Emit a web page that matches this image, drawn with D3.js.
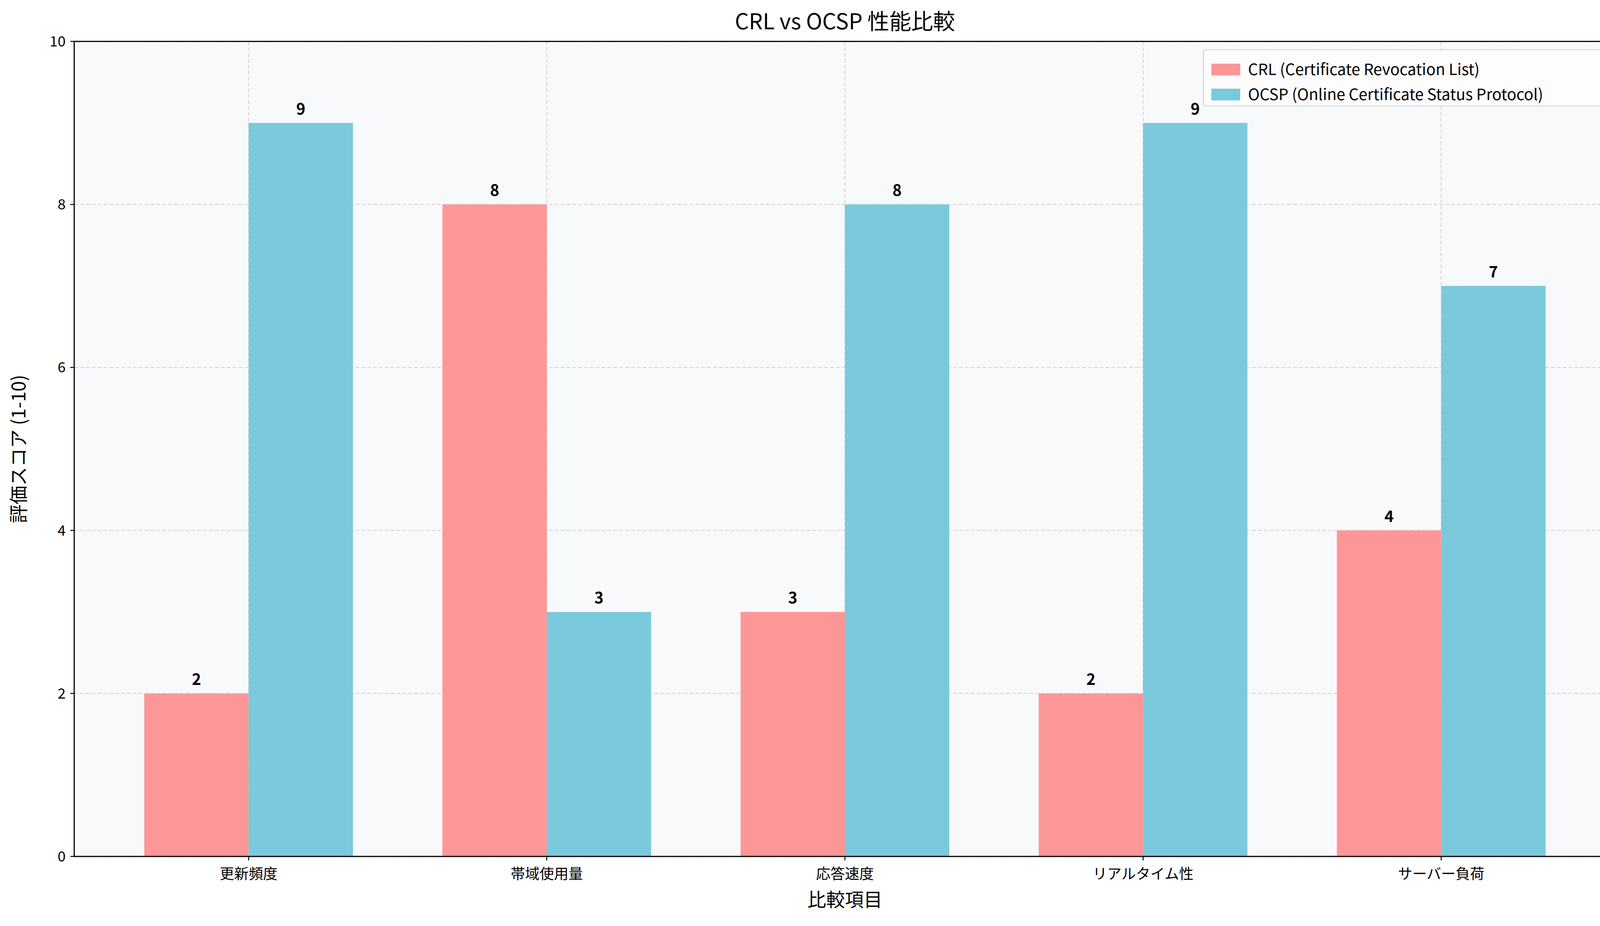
<!DOCTYPE html>
<html><head><meta charset="utf-8">
<script src="https://cdn.jsdelivr.net/npm/d3@7"></script>
<style>body{margin:0;background:#fff}text{font-family:"Noto Sans CJK JP","Noto Sans",sans-serif}</style>
</head><body><svg id="c" width="4168" height="2370"></svg>
<script>
const categories = ["更新頻度","帯域使用量","応答速度","リアルタイム性","サーバー負荷"];
const crlValues = [2,8,3,2,4];
const ocspValues = [9,3,8,9,7];
const seriesNames = ["CRL (Certificate Revocation List)","OCSP (Online Certificate Status Protocol)"];
const yTicks = [0,2,4,6,8,10];
const colors = ["#fd9797","#7ac9dc"];

const svg = d3.select("#c");
const L=190,R=4136,T=106,B=2192;
const x = d3.scaleLinear().domain([-0.585,4.585]).range([L,R]);
const y = d3.scaleLinear().domain([0,10]).range([B,T]);
const w = 0.35;

svg.append("rect").attr("x",L).attr("y",T).attr("width",R-L).attr("height",B-T).attr("fill","#f8f9fa");
// grid
yTicks.forEach(t=>svg.append("line").attr("x1",L).attr("x2",R).attr("y1",y(t)).attr("y2",y(t))
  .attr("stroke","#d8d8d8").attr("stroke-width",2.5).attr("stroke-dasharray","10,5"));
categories.forEach((c,i)=>svg.append("line").attr("x1",x(i)).attr("x2",x(i)).attr("y1",T).attr("y2",B)
  .attr("stroke","#d8d8d8").attr("stroke-width",2.5).attr("stroke-dasharray","10,5"));

[crlValues,ocspValues].forEach((vals,s)=>{
  const off = s===0 ? -w : 0;
  vals.forEach((v,i)=>{
    svg.append("rect").attr("x",x(i+off)).attr("width",x(w)-x(0)).attr("y",y(v)).attr("height",y(0)-y(v)).attr("fill",colors[s]);
    svg.append("text").attr("x",x(i+off+w/2)).attr("y",y(v)-22).attr("text-anchor","middle")
      .attr("font-size",40).attr("font-weight","bold").text(v);
  });
});

svg.append("rect").attr("x",L).attr("y",T).attr("width",R-L).attr("height",B-T).attr("fill","none").attr("stroke","#000").attr("stroke-width",3);

// y ticks
yTicks.forEach(t=>{
  svg.append("line").attr("x1",L-10).attr("x2",L).attr("y1",y(t)).attr("y2",y(t)).attr("stroke","#000").attr("stroke-width",2.5);
  svg.append("text").attr("x",L-22).attr("y",y(t)).attr("dy","0.35em").attr("text-anchor","end").attr("font-size",37).text(t);
});
categories.forEach((c,i)=>{
  svg.append("line").attr("x1",x(i)).attr("x2",x(i)).attr("y1",B).attr("y2",B+10).attr("stroke","#000").attr("stroke-width",2.5);
  svg.append("text").attr("x",x(i)).attr("y",B+58).attr("text-anchor","middle").attr("font-size",37).text(c);
});

svg.append("text").attr("x",(L+R)/2).attr("y",75).attr("text-anchor","middle").attr("font-size",56).text("CRL vs OCSP 性能比較");
svg.append("text").attr("x",(L+R)/2).attr("y",2320).attr("text-anchor","middle").attr("font-size",48).text("比較項目");
svg.append("text").attr("transform",`translate(65,${(T+B)/2}) rotate(-90)`).attr("text-anchor","middle").attr("font-size",48).text("評価スコア (1-10)");

// legend
const lg = svg.append("g");
lg.append("rect").attr("x",3081).attr("y",127).attr("width",1034).attr("height",144).attr("rx",6)
  .attr("fill","#fdfdfd").attr("fill-opacity",0.9).attr("stroke","#d6d6d6").attr("stroke-width",2.5);
seriesNames.forEach((n,i)=>{
  const yy = 163+i*64;
  lg.append("rect").attr("x",3101).attr("y",yy).attr("width",74).attr("height",30).attr("fill",colors[i]);
  lg.append("text").attr("x",3195).attr("y",yy+15).attr("dy","0.35em").attr("font-size",40).text(n);
});
</script></body></html>
